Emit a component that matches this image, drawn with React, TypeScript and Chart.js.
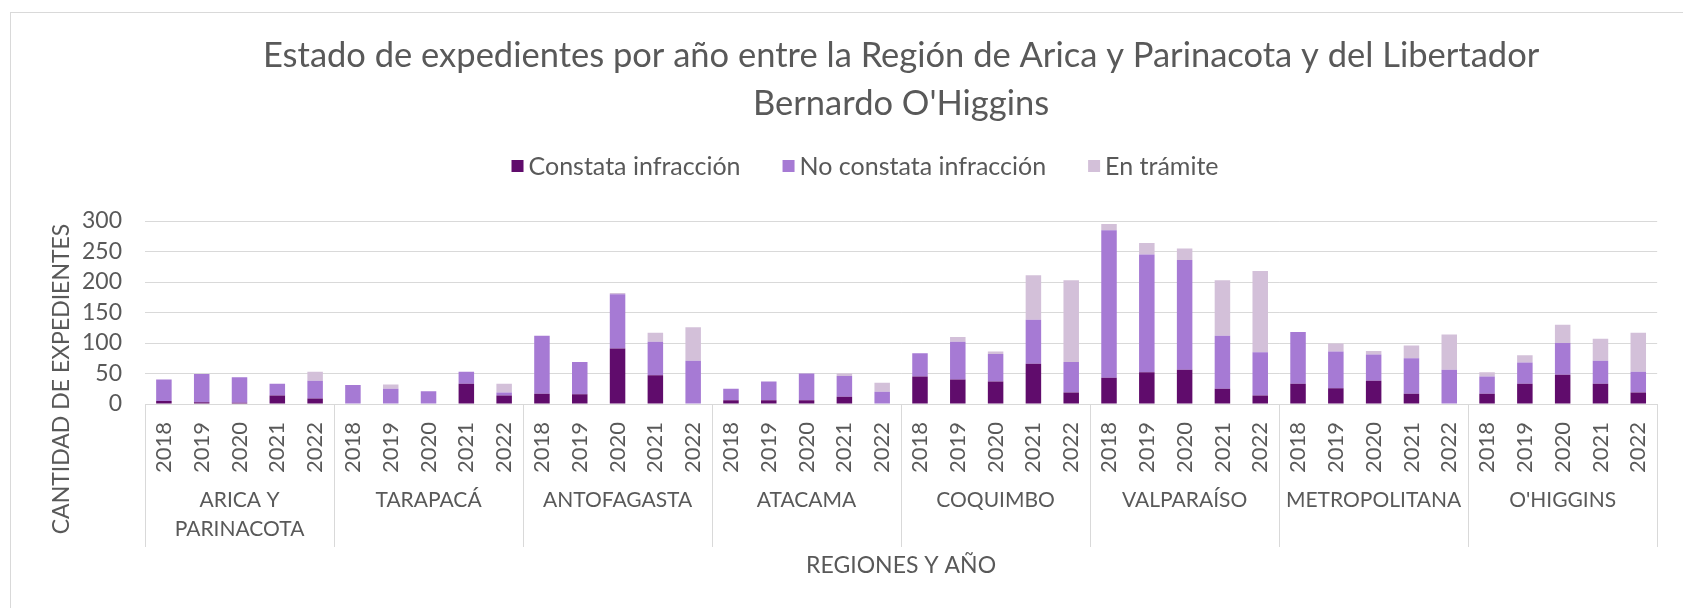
import React, { useEffect, useRef } from "react";
import { Chart, registerables } from "chart.js";

Chart.register(...registerables);

const TITLE_LINES = [
  "Estado de expedientes por año entre la Región de Arica y Parinacota y del Libertador",
  "Bernardo O'Higgins",
];
const Y_TITLE = "CANTIDAD DE EXPEDIENTES";
const X_TITLE = "REGIONES Y AÑO";

const REGIONS: string[][] = [
  ["ARICA Y", "PARINACOTA"],
  ["TARAPACÁ"],
  ["ANTOFAGASTA"],
  ["ATACAMA"],
  ["COQUIMBO"],
  ["VALPARAÍSO"],
  ["METROPOLITANA"],
  ["O'HIGGINS"],
];
const YEARS = ["2018", "2019", "2020", "2021", "2022"];

const SERIES_NAMES = ["Constata infracción", "No constata infracción", "En trámite"];

// order: region by region, 2018..2022
const CONSTATA = [
  5, 3, 2, 14, 9,
  0, 0, 0, 33, 14,
  17, 16, 91, 47, 0,
  6, 6, 6, 12, 0,
  45, 40, 37, 66, 19,
  43, 52, 56, 25, 14,
  33, 26, 38, 17, 0,
  17, 33, 48, 33, 19,
];
const NO_CONSTATA = [
  35, 46, 42, 19, 29,
  31, 25, 21, 20, 5,
  95, 53, 89, 55, 71,
  19, 31, 44, 34, 20,
  38, 62, 45, 72, 50,
  242, 193, 180, 87, 71,
  85, 60, 43, 58, 56,
  28, 35, 52, 38, 34,
];
const EN_TRAMITE = [
  0, 0, 0, 0, 15,
  0, 7, 0, 0, 14,
  0, 0, 2, 15, 55,
  0, 0, 0, 4, 15,
  0, 8, 4, 73, 134,
  10, 19, 19, 91, 133,
  0, 13, 6, 21, 58,
  7, 12, 30, 36, 64,
];

const Y_MIN = 0;
const Y_MAX = 300;
const Y_STEP = 50;

const COLORS = ["#600C6C", "#A67AD4", "#D3C0D9"];
const TEXT = "#595959";
const GRID = "#D9D9D9";
const FONT = "Lato, 'Open Sans', sans-serif";

const LABELS = REGIONS.flatMap(() => YEARS);

const decorPlugin = {
  id: "decor",
  afterDraw(chart: any) {
    const { ctx, chartArea } = chart;
    const x = chart.scales.x;
    const n = YEARS.length;
    ctx.save();
    // group separators
    ctx.strokeStyle = GRID;
    ctx.lineWidth = 1;
    const half = (x.getPixelForValue(1) - x.getPixelForValue(0)) / 2;
    for (let g = 0; g <= REGIONS.length; g++) {
      const px =
        g === REGIONS.length
          ? x.getPixelForValue(g * n - 1) + half
          : x.getPixelForValue(g * n) - half;
      const xx = Math.round(px) + 0.5;
      ctx.beginPath();
      ctx.moveTo(xx, chartArea.bottom);
      ctx.lineTo(xx, chartArea.bottom + 143);
      ctx.stroke();
    }
    // region labels
    ctx.font = `21px ${FONT}`;
    ctx.fillStyle = TEXT;
    ctx.textAlign = "center";
    ctx.textBaseline = "middle";
    REGIONS.forEach((lines, g) => {
      const cx = (x.getPixelForValue(g * n) + x.getPixelForValue(g * n + n - 1)) / 2;
      lines.forEach((l, i) => ctx.fillText(l, cx, chartArea.bottom + 96 + i * 29));
    });
    // y axis title
    ctx.font = `23px ${FONT}`;
    ctx.save();
    ctx.translate(62, 379);
    ctx.rotate(-Math.PI / 2);
    ctx.fillText(Y_TITLE, 0, 0);
    ctx.restore();
    // legend
    ctx.font = `25px ${FONT}`;
    const box = 12;
    const gapText = 5;
    const gapItem = 42;
    const items = chart.data.datasets.map((d: any) => ({
      label: d.label,
      color: d.backgroundColor,
      w: ctx.measureText(d.label).width,
    }));
    const total =
      items.reduce((s: number, it: any) => s + box + gapText + it.w, 0) +
      gapItem * (items.length - 1);
    let lx = 865 - total / 2;
    const ly = 166;
    ctx.textAlign = "left";
    items.forEach((it: any) => {
      ctx.fillStyle = it.color;
      ctx.fillRect(lx, ly - box / 2, box, box);
      ctx.fillStyle = TEXT;
      ctx.fillText(it.label, lx + box + gapText, ly + 1);
      lx += box + gapText + it.w + gapItem;
    });
    ctx.restore();
  },
};

export default function App() {
  const ref = useRef<HTMLCanvasElement | null>(null);
  useEffect(() => {
    if (!ref.current) return;
    const chart = new Chart(ref.current, {
      type: "bar",
      data: {
        labels: LABELS,
        datasets: [
          { label: SERIES_NAMES[0], data: CONSTATA, backgroundColor: COLORS[0] },
          { label: SERIES_NAMES[1], data: NO_CONSTATA, backgroundColor: COLORS[1] },
          { label: SERIES_NAMES[2], data: EN_TRAMITE, backgroundColor: COLORS[2] },
        ].map((d) => ({
          ...d,
          barPercentage: 0.41,
          categoryPercentage: 1,
          borderWidth: 0,
        })),
      },
      options: {
        responsive: false,
        animation: false,
        devicePixelRatio: 1,
        layout: { padding: { left: 0, right: 4, top: 0, bottom: 0 } },
        plugins: {
          legend: { display: false },
          tooltip: { enabled: false },
          title: {
            display: true,
            text: TITLE_LINES,
            fullSize: false,
            color: TEXT,
            font: { family: FONT, size: 34.5, weight: "normal", lineHeight: "48px" },
            padding: { top: 32, bottom: 93 },
          },
        },
        scales: {
          x: {
            stacked: true,
            afterFit: (s: any) => {
              s.height = 204;
            },
            grid: { display: false, drawTicks: false },
            border: { display: true, color: GRID, width: 1 },
            ticks: {
              autoSkip: false,
              minRotation: 90,
              maxRotation: 90,
              padding: 18,
              color: TEXT,
              font: { family: FONT, size: 22 },
            },
            title: {
              display: true,
              text: X_TITLE,
              color: TEXT,
              font: { family: FONT, size: 23, lineHeight: 1.2 },
              padding: { top: 0, bottom: 29 },
            },
          },
          y: {
            stacked: true,
            min: Y_MIN,
            max: Y_MAX,
            afterFit: (s: any) => {
              s.width = 145;
            },
            grid: { color: GRID, lineWidth: 1, drawTicks: false },
            border: { display: false },
            ticks: {
              stepSize: Y_STEP,
              autoSkip: false,
              padding: 23,
              color: TEXT,
              font: { family: FONT, size: 23, lineHeight: 1 },
            },
          },
        },
      },
      plugins: [decorPlugin],
    });
    return () => chart.destroy();
  }, []);

  return (
    <div
      style={{
        position: "fixed",
        left: 0,
        top: 0,
        width: 1683,
        height: 608,
        overflow: "hidden",
        background: "#fff",
      }}
    >
      <div
        style={{
          position: "absolute",
          left: 10,
          top: 12,
          width: 2000,
          height: 2000,
          border: `1px solid ${GRID}`,
        }}
      />
      <canvas
        ref={ref}
        width={1683}
        height={608}
        style={{ position: "absolute", left: 0, top: 0, display: "block" }}
      />
    </div>
  );
}
